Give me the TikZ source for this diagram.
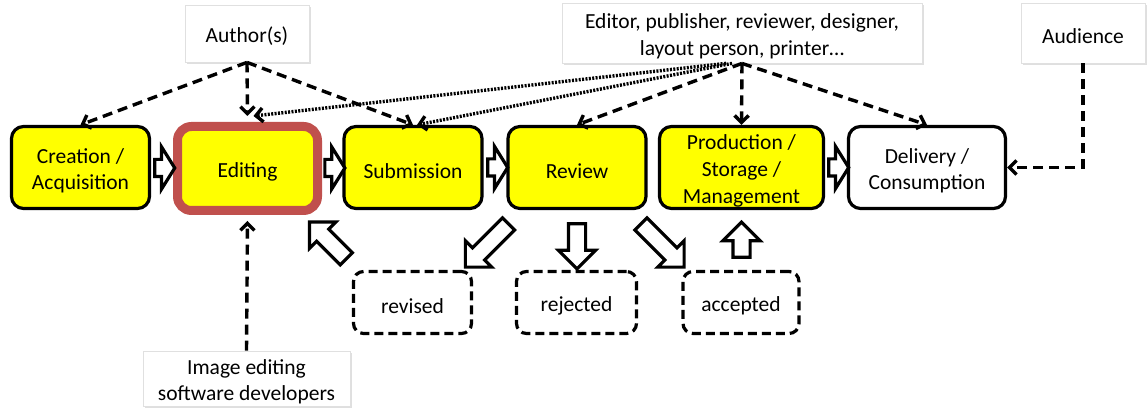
\documentclass[tikz,border=0pt]{standalone}
\usepackage{fontspec}
\setmainfont{Carlito}
\usetikzlibrary{arrows.meta,shapes.arrows,shadows,calc}
\definecolor{hiyel}{HTML}{FFFF00}
\definecolor{edired}{HTML}{C0504D}
\newcommand\toprule{\rule{0pt}{10.8pt}}

\begin{document}
\begin{tikzpicture}[x=0.5pt,y=-0.5pt,>={Straight Barb[length=3.5pt,width=7pt]},
  font=\fontsize{10.75}{13.3}\selectfont,
  stage/.style={draw,line width=1.6pt,rounded corners=6pt,fill=hiyel,align=center,
    minimum width=69pt,minimum height=41pt,inner sep=0pt},
  actor/.style={fill=white,draw=black!12,line width=.4pt,align=center,inner sep=0pt,
    drop shadow={shadow xshift=1.2pt,shadow yshift=-1.2pt,opacity=.25}},
  result/.style={draw,line width=1.6pt,dash pattern=on 4.5pt off 2.5pt,rounded corners=5pt,
    minimum width=59pt,minimum height=31pt},
  blk/.style={single arrow,draw,fill=white,line width=1.6pt,inner xsep=0pt,inner ysep=3.5pt,
    single arrow head extend=5pt,single arrow tip angle=90},
  blkh/.style={blk,single arrow head extend=6.25pt,single arrow tip angle=116,minimum height=10pt},
  dsh/.style={line width=1.7pt,dash pattern=on 5pt off 3pt},
  dotln/.style={line width=1.7pt,dash pattern=on 1pt off 0.7pt}]
\useasboundingbox (0,0) rectangle (1148,410);
% stages of the workflow
\node[stage] (Cre) at (80.5,167.5) {\toprule Creation /\\Acquisition};
\node[stage,draw=edired,line width=4.5pt,rounded corners=7pt,minimum width=70pt,minimum height=42pt] (Edi) at (247.5,168.5) {\toprule Editing};
\node[stage] (Sub) at (413,167.5) {\toprule Submission};
\node[stage] (Rev) at (577,167.5) {\toprule Review};
\node[stage,minimum width=82pt] (Pro) at (741.5,167.5) {\toprule Production /\\Storage /\\Management};
\node[stage,fill=white,minimum width=78.5pt] (Del) at (927,167.5) {\toprule Delivery /\\Consumption};
% people involved
\node[actor,minimum width=62pt,minimum height=28.5pt] (Aut) at (247,33.5) {\toprule Author(s)};
\node[actor,minimum width=180pt,minimum height=30pt] (Eds) at (742,33) {\toprule Editor, publisher, reviewer, designer,\\layout person, printer…};
\node[actor,minimum width=62pt,minimum height=30pt] (Aud) at (1083,33) {\toprule Audience};
\node[actor,minimum width=103.5pt,minimum height=27.5pt] (Img) at (246.5,378.5) {\toprule Image editing\\software developers};
% review outcomes
\node[result] (Rvs) at (412.5,302.5) {\toprule revised};
\node[result,minimum width=60pt] (Rej) at (576.5,302.5) {\toprule rejected};
\node[result,minimum width=58pt] (Acc) at (741,302.5) {\toprule accepted};
% block arrows
\node[blkh] (b1) at ($(Cre.east)!.5!(Edi.west)$) {};
\node[blkh] (b2) at ($(Edi.east)!.5!(Sub.west)$) {};
\node[blkh] (b3) at ($(Sub.east)!.5!(Rev.west)$) {};
\node[blkh] (b4) at ($(Pro.east)!.5!(Del.west)$) {};
\node[blk,rotate=135,minimum height=26pt] (b5) at (331,243.5) {};
\node[blk,rotate=225,minimum height=30.5pt] (b6) at (490,242.5) {};
\node[blk,rotate=270,minimum height=22.5pt] (b7) at (577,242) {};
\node[blk,rotate=315,minimum height=30.5pt] (b8) at (659.5,242.5) {};
\node[blk,rotate=90,minimum height=17.5pt] (b9) at (741.5,244) {};
% who works on which stage
\draw[dsh,->] (Aut.south) -- (Cre.north);
\draw[dsh,->] (Aut.south) -- ([yshift=3pt]Edi.north);
\draw[dsh,->] (Aut.south) -- (Sub.north);
\draw[dotln,->] ([xshift=-8pt]Eds.south) -- ([xshift=3pt,yshift=3pt]Edi.north);
\draw[dotln,->] ([xshift=-5pt]Eds.south) -- ([xshift=2pt]Sub.north);
\draw[dsh,->] (Eds.south) -- (Rev.north);
\draw[dsh,->] (Eds.south) -- (Pro.north);
\draw[dsh,->] (Eds.south) -- (Del.north);
\draw[dsh,->] (Aud.south) |- (Del.east);
\draw[dsh,->] (Img.north) -- ([yshift=-3pt]Edi.south);
\end{tikzpicture}
\end{document}
